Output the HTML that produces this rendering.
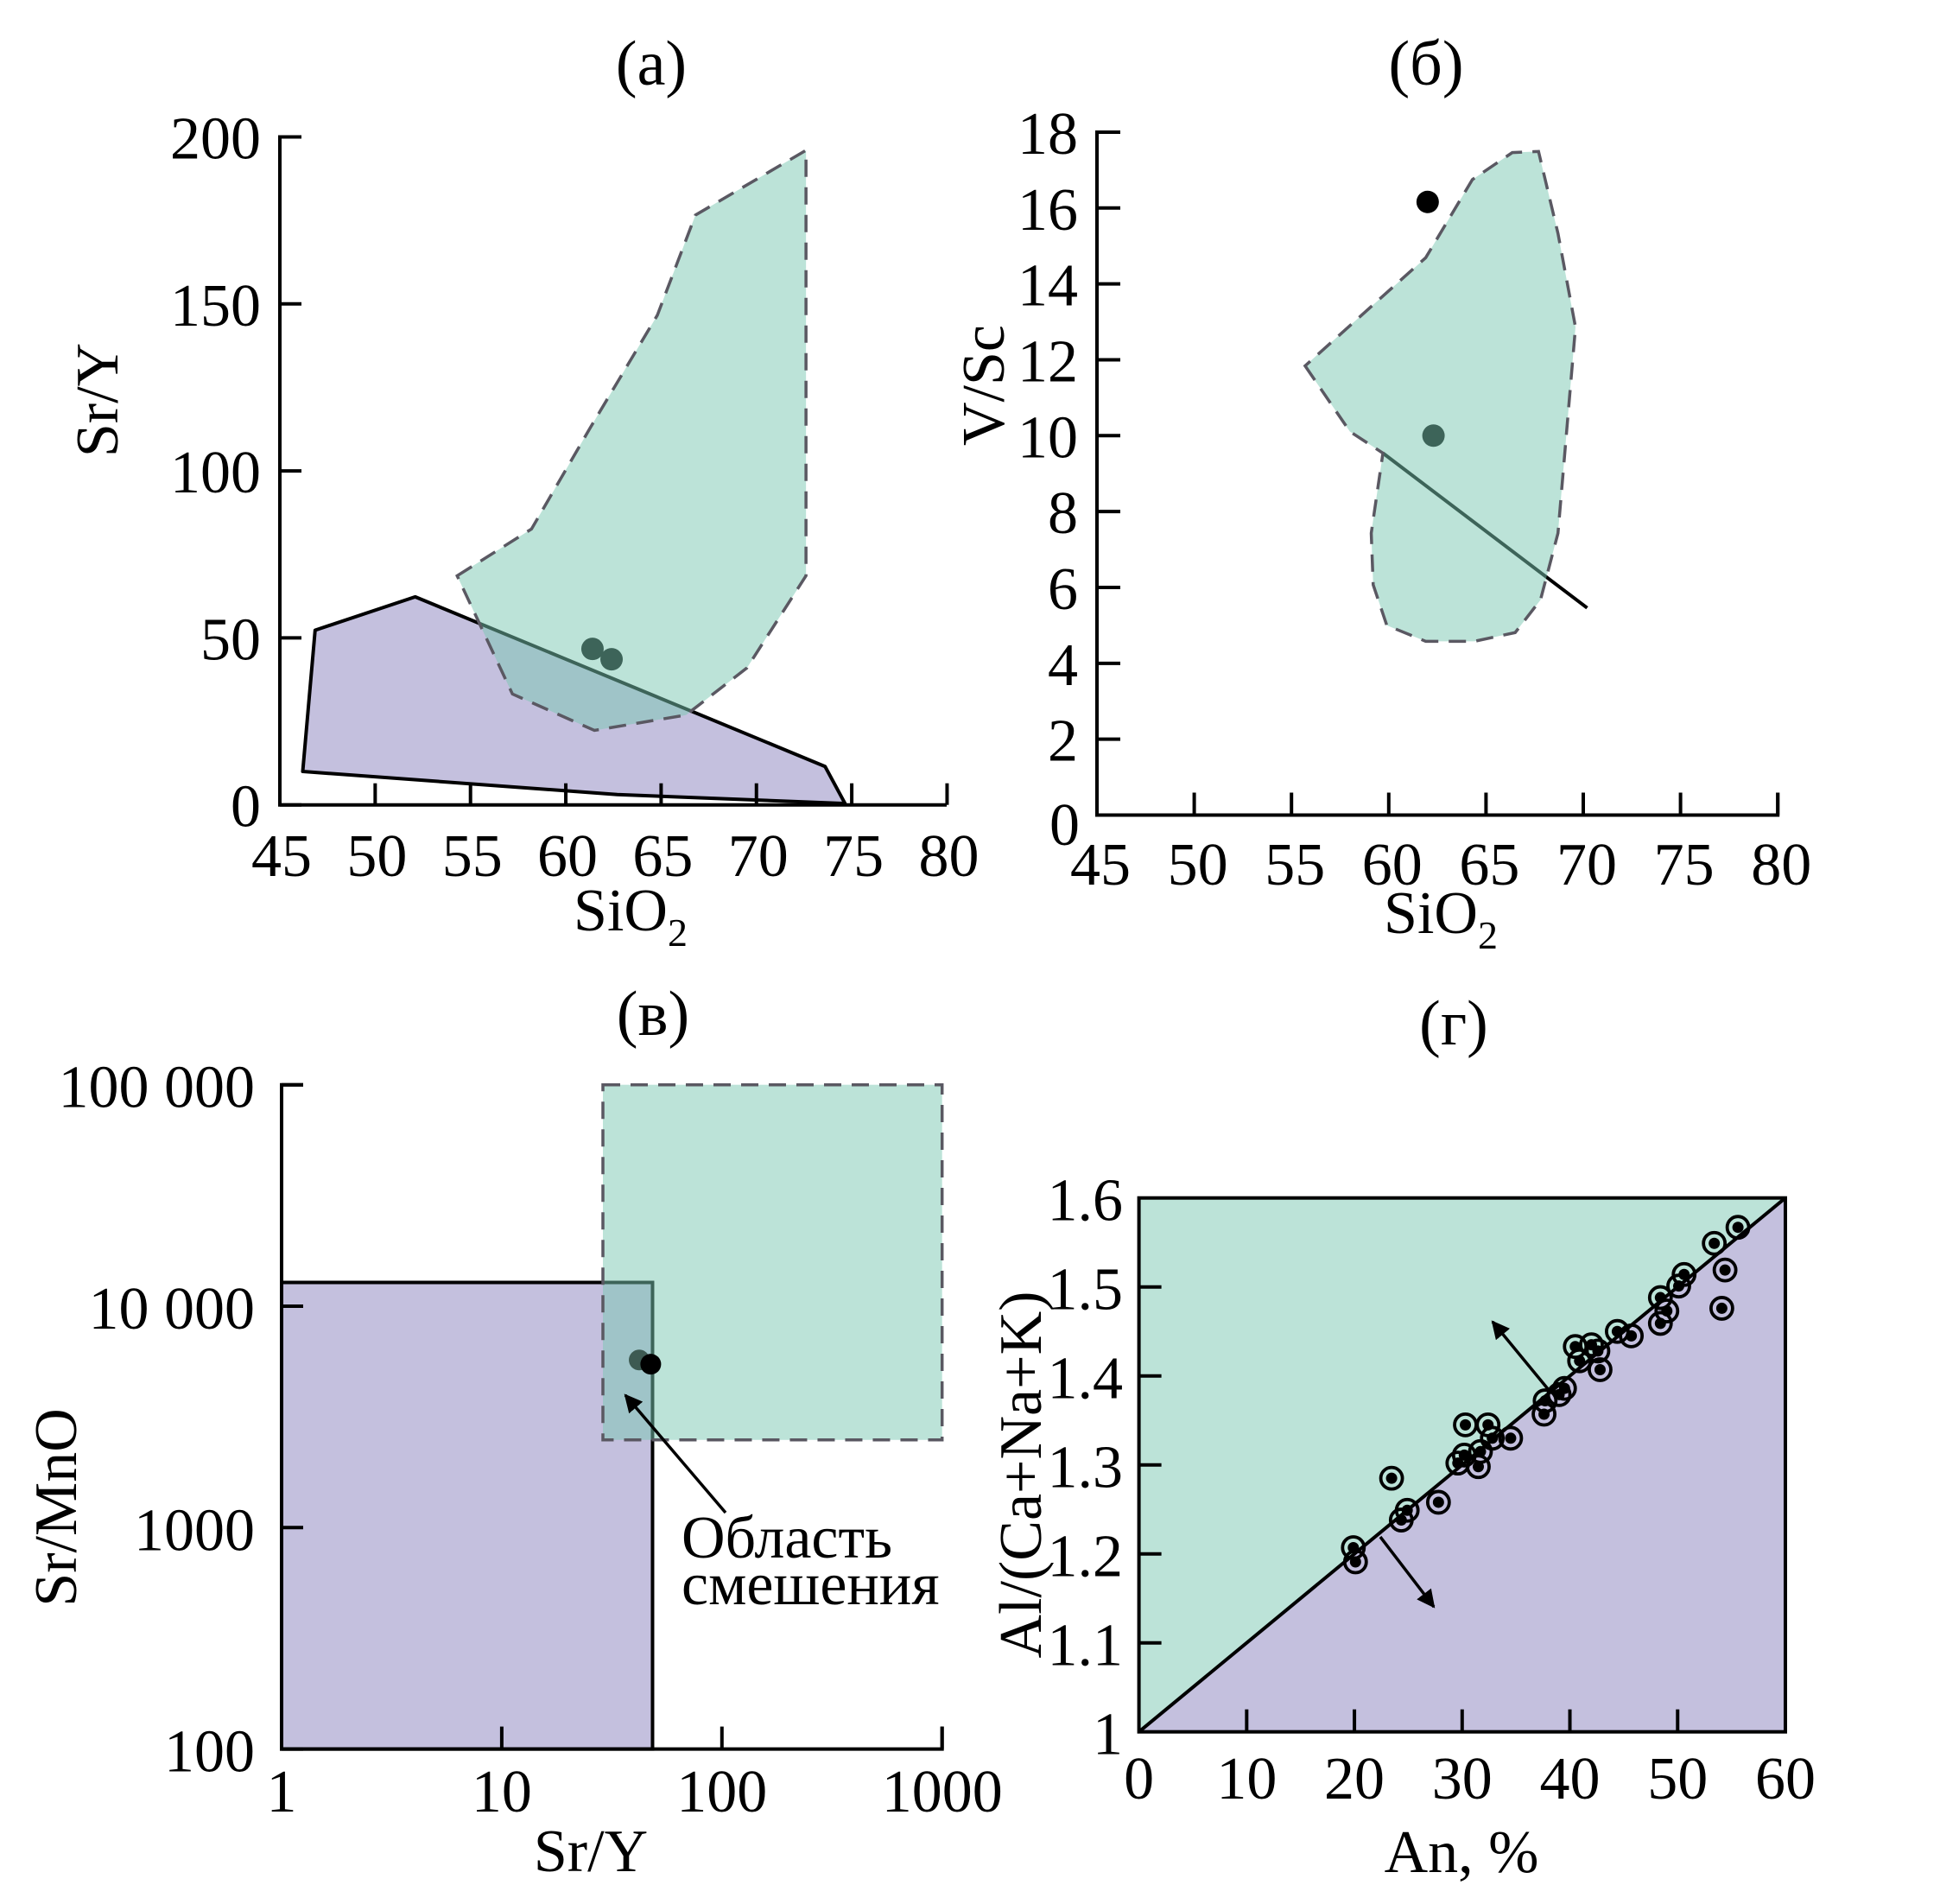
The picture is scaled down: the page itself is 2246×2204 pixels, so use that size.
<!DOCTYPE html>
<html><head><meta charset="utf-8"><style>
html,body{margin:0;padding:0;background:#fff}
svg{display:block}
text{font-family:"Liberation Serif","DejaVu Serif",serif;fill:#000}
</style></head><body>
<svg id="fig" xmlns="http://www.w3.org/2000/svg" width="2246" height="2204" viewBox="0 0 2246 2204">
</svg>
<script>
// ---------- Panel (a) data ----------
const aXTicks = [45,50,55,60,65,70,75,80];
const aYTicks = [0,50,100,150,200];
const aPurple = [[46.85,52.3],[52.1,62.3],[73.6,11.5],[74.65,0.4],[62.7,3.1],[46.2,10.0]];
const aGreen = [[54.3,68.6],[58.2,82.6],[61.3,113.1],[64.8,146.6],[66.8,176.6],[72.6,196.0],[72.6,68.6],[69.5,41.0],[66.3,26.9],[61.5,22.3],[57.2,33.2]];
const aPointsX = [61.4,62.4];
const aPointsY = [46.7,43.6];
// ---------- Panel (б) data ----------
const bXTicks = [45,50,55,60,65,70,75,80];
const bYTicks = [0,2,4,6,8,10,12,14,16,18];
const bGreen = [[55.7,11.84],[58.0,10.11],[59.7,9.54],[59.1,7.43],[59.2,6.07],[59.9,5.0],[61.9,4.58],[64.4,4.58],[66.5,4.81],[67.8,5.67],[68.7,7.43],[69.6,12.86],[68.7,15.33],[67.7,17.49],[66.35,17.46],[64.3,16.75],[61.9,14.69]];
const bLine = [[59.7,9.54],[70.2,5.46]];
const bPointsX = [62.0,62.3];
const bPointsY = [16.16,10.0];
// ---------- Panel (в) data ----------
const cXTicks = [1,10,100,1000];
const cXLabels = ["1","10","100","1000"];
const cYTicks = [100,1000,10000,100000];
const cYLabels = ["100","1000","10 000","100 000"];
const cPurpleRect = [1,48.4,100,12800];
const cGreenRect = [28.8,1000,2490,100000];
const cPointsX = [42.1,47.5];
const cPointsY = [5716,5470];
// ---------- Panel (г) data ----------
const dXTicks = [0,10,20,30,40,50,60];
const dYTicks = [1,1.1,1.2,1.3,1.4,1.5,1.6];
const dYLabels = ["1","1.1","1.2","1.3","1.4","1.5","1.6"];
const dAn = [19.9,20.1,23.45,24.35,24.9,27.8,29.6,30.3,30.2,31.5,31.7,32.4,32.8,34.5,37.6,37.7,39.0,39.5,40.5,40.9,42.0,42.6,42.8,44.4,45.7,48.4,48.4,49.0,50.1,50.6,53.4,54.4,54.1,55.6];
const dRatio = [1.207,1.191,1.285,1.238,1.249,1.258,1.302,1.345,1.311,1.298,1.315,1.345,1.33,1.33,1.357,1.372,1.379,1.386,1.433,1.417,1.435,1.428,1.407,1.45,1.445,1.459,1.488,1.473,1.501,1.514,1.549,1.519,1.476,1.567];

const NS="http://www.w3.org/2000/svg";
const svg=document.getElementById('fig');
function el(tag,attrs,parent){const e=document.createElementNS(NS,tag);for(const k in attrs)e.setAttribute(k,attrs[k]);(parent||svg).appendChild(e);return e;}
function txt(s,x,y,size,anchor,parent){const t=el('text',{x:x,y:y,'font-size':size,'text-anchor':anchor||'middle'},parent);t.textContent=s;return t;}
const GREEN_FILL="rgb(121,199,177)", GREEN_OP=0.5, PURPLE="#c4c0de", DASH="#5a5862";
const FS=70;
const LW=4;

// ===== Panel (a) =====
(function(){
 const g=el('g',{});
 
 
 const X=v=>324+(v-45)*22.07, Y=v=>931.7-v*3.866;
 const pp=el('polygon',{points:aPurple.map(p=>X(p[0])+','+Y(p[1])).join(' '),fill:PURPLE,stroke:'#000','stroke-width':LW,'stroke-linejoin':'round'},g);
 
 
 aPointsX.forEach((v,i)=>{const c=el('circle',{cx:X(v),cy:Y(aPointsY[i]),r:13,fill:'#000'},g);
  
  });
 const gp=el('polygon',{points:aGreen.map(p=>X(p[0])+','+Y(p[1])).join(' '),fill:GREEN_FILL,'fill-opacity':GREEN_OP,stroke:'none'},g);
 
 
 const go=el('polygon',{points:aGreen.map(p=>X(p[0])+','+Y(p[1])).join(' '),fill:'none',stroke:DASH,'stroke-width':3.5,'stroke-dasharray':'20 12'},g);
 
 
 el('path',{d:`M${X(45)+25},${Y(200)} H${X(45)} V${Y(0)} H1096`,fill:'none',stroke:'#000','stroke-width':4},g);
 aYTicks.forEach(v=>{el('line',{x1:X(45),x2:X(45)+25,y1:Y(v),y2:Y(v),stroke:'#000','stroke-width':4},g);
  const t=txt(String(v),302,Y(v)+25,FS,'end',g);
  
  });
 aXTicks.forEach(v=>{if(v>45)el('line',{x1:X(v),x2:X(v),y1:Y(0),y2:Y(0)-25,stroke:'#000','stroke-width':4},g);
  const t=txt(String(v),X(v)+2,1014,FS,'middle',g);
  
  });
 const tt=txt('(a)',754,98,74,'middle',g);
 
 
 const yl=txt('Sr/Y',0,0,FS,'middle',g);yl.setAttribute('transform','translate(136,463) rotate(-90)');
 
 
 const xl=txt('',730,1077,FS,'middle',g);xl.innerHTML='SiO<tspan font-size="46" dy="18">2</tspan>';
 
 
})();

// ===== Panel (б) =====
(function(){
 const g=el('g',{});
 
 
 const X=v=>1270+(v-45)*22.52, Y=v=>943.5-v*43.92;
 const pts=bGreen.map(p=>X(p[0])+','+Y(p[1])).join(' ');
 const ln=el('line',{x1:X(bLine[0][0]),y1:Y(bLine[0][1]),x2:X(bLine[1][0]),y2:Y(bLine[1][1]),stroke:'#000','stroke-width':LW},g);
 
 
 bPointsX.forEach((v,i)=>{const c=el('circle',{cx:X(v),cy:Y(bPointsY[i]),r:13,fill:'#000'},g);
  
  });
 const gp=el('polygon',{points:pts,fill:GREEN_FILL,'fill-opacity':GREEN_OP,stroke:DASH,'stroke-width':3.5,'stroke-dasharray':'20 12'},g);
 
 
 el('path',{d:`M${X(45)+27},${Y(18)} H${X(45)} V${Y(0)} H${X(80)} V${Y(0)-26}`,fill:'none',stroke:'#000','stroke-width':4},g);
 bYTicks.forEach(v=>{el('line',{x1:X(45),x2:X(45)+27,y1:Y(v),y2:Y(v),stroke:'#000','stroke-width':4},g);
  const t=txt(String(v),v===0?1250:1248,v===0?978:Y(v)+25,FS,'end',g);
  
  });
 bXTicks.forEach(v=>{if(v>45)el('line',{x1:X(v),x2:X(v),y1:Y(0),y2:Y(0)-26,stroke:'#000','stroke-width':4},g);
  const t=txt(String(v),X(v)+4,1024,FS,'middle',g);
  
  });
 const tt=txt('(б)',1651,98,74,'middle',g);
 
 
 const yl=txt('V/Sc',0,0,FS,'middle',g);yl.setAttribute('transform','translate(1162,446) rotate(-90)');
 
 
 const xl=txt('',1668,1080,FS,'middle',g);xl.innerHTML='SiO<tspan font-size="46" dy="18">2</tspan>';
 
 
})();

// ===== Panel (в) =====
(function(){
 const g=el('g',{});
 
 
 const X=v=>326+Math.log10(v)*254.9, Y=v=>2024.6-(Math.log10(v)-2)*256.3;
 const pr=el('rect',{x:X(cPurpleRect[0]),y:Y(cPurpleRect[3]),width:X(cPurpleRect[1])-X(cPurpleRect[0]),height:Y(cPurpleRect[2])-Y(cPurpleRect[3]),fill:PURPLE,stroke:'#000','stroke-width':LW},g);
 
 
 const gr=el('rect',{x:X(cGreenRect[0]),y:Y(cGreenRect[3]),width:X(cGreenRect[1])-X(cGreenRect[0]),height:Y(cGreenRect[2])-Y(cGreenRect[3]),fill:GREEN_FILL,'fill-opacity':GREEN_OP,stroke:DASH,'stroke-width':3.5,'stroke-dasharray':'20 12'},g);
 
 
 const cols=['#3d5a52','#000'];
 cPointsX.forEach((v,i)=>{const c=el('circle',{cx:X(v),cy:Y(cPointsY[i]),r:12,fill:cols[i]},g);
  
  });
 el('path',{d:`M${X(1)+25},${Y(100000)} H${X(1)} V${Y(100)} H${X(1000)} V${Y(100)-26}`,fill:'none',stroke:'#000','stroke-width':4},g);
 cYTicks.forEach((v,i)=>{el('line',{x1:X(1),x2:X(1)+25,y1:Y(v),y2:Y(v),stroke:'#000','stroke-width':4},g);
  const t=txt(cYLabels[i],295,Y(v)+26,FS,'end',g);
  
  });
 cXTicks.forEach((v,i)=>{if(v>1)el('line',{x1:X(v),x2:X(v),y1:Y(100),y2:Y(100)-26,stroke:'#000','stroke-width':4},g);
  const t=txt(cXLabels[i],X(v),2097,FS,'middle',g);
  
  });
 el('defs',{},g).innerHTML='<marker id="ah" viewBox="0 0 10 10" refX="9" refY="5" markerWidth="6" markerHeight="6" orient="auto"><path d="M0,0 L10,5 L0,10 z" fill="#000"/></marker>';
 const ar=el('line',{x1:840,y1:1751,x2:724,y2:1615,stroke:'#000','stroke-width':3.5,'marker-end':'url(#ah)'},g);
 
 
 const a1=txt('Область',789,1803,70,'start',g);
 
 
 const a2=txt('смешения',789,1857,70,'start',g);
 
 
 const tt=txt('(в)',756,1198,74,'middle',g);
 
 
 const yl=txt('Sr/MnO',0,0,FS,'middle',g);yl.setAttribute('transform','translate(88,1745) rotate(-90)');
 
 
 const xl=txt('Sr/Y',684,2166,FS,'middle',g);
 
 
})();

// ===== Panel (г) =====
(function(){
 const g=el('g',{});
 
 
 const X=v=>1318.6+v*12.473, Y=v=>2004.7-(v-1)*1030;
 const gt=el('polygon',{points:`${X(0)},${Y(1)} ${X(0)},${Y(1.6)} ${X(60)},${Y(1.6)}`,fill:'#bce3d8'},g);
 
 
 const pt=el('polygon',{points:`${X(0)},${Y(1)} ${X(60)},${Y(1.6)} ${X(60)},${Y(1)}`,fill:PURPLE},g);
 
 
 const dl=el('line',{x1:X(0),y1:Y(1),x2:X(60),y2:Y(1.6),stroke:'#000','stroke-width':LW},g);
 
 
 el('rect',{x:X(0),y:Y(1.6),width:X(60)-X(0),height:Y(1)-Y(1.6),fill:'none',stroke:'#000','stroke-width':4},g);
 dYTicks.forEach((v,i)=>{if(i>0&&i<6)el('line',{x1:X(0),x2:X(0)+26,y1:Y(v),y2:Y(v),stroke:'#000','stroke-width':4},g);
  const t=txt(dYLabels[i],1300,Y(v)+26,FS,'end',g);
  
  });
 dXTicks.forEach(v=>{if(v>0&&v<60)el('line',{x1:X(v),x2:X(v),y1:Y(1),y2:Y(1)-26,stroke:'#000','stroke-width':4},g);
  const t=txt(String(v),X(v),2082,FS,'middle',g);
  
  });
 dAn.forEach((v,i)=>{
  const ring=el('circle',{cx:X(v),cy:Y(dRatio[i]),r:12.5,fill:'none',stroke:'#000','stroke-width':3.8},g);
  
  
  const dot=el('circle',{cx:X(v),cy:Y(dRatio[i]),r:6.5,fill:'#000'},g);
  
  
 });
 el('defs',{},g).innerHTML='<marker id="ah2" viewBox="0 0 10 10" refX="9" refY="5" markerWidth="6" markerHeight="6" orient="auto"><path d="M0,0 L10,5 L0,10 z" fill="#000"/></marker>';
 const a1=el('line',{x1:1793,y1:1609,x2:1728,y2:1530,stroke:'#000','stroke-width':3.5,'marker-end':'url(#ah2)'},g);
 
 
 const a2=el('line',{x1:1598,y1:1779,x2:1660,y2:1860,stroke:'#000','stroke-width':3.5,'marker-end':'url(#ah2)'},g);
 
 
 const tt=txt('(г)',1683,1209,74,'middle',g);
 
 
 const yl=txt('Al/(Ca+Na+K)',0,0,FS,'middle',g);yl.setAttribute('transform','translate(1205,1707) rotate(-90)');
 
 
 const xl=txt('An, %',1692,2167,FS,'middle',g);
 
 
})();
</script>
</body></html>
